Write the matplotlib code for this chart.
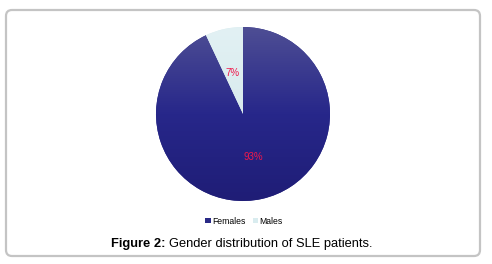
import numpy as np
import matplotlib
matplotlib.use('Agg')
import matplotlib.pyplot as plt
from matplotlib.patches import FancyBboxPatch, Patch
from matplotlib.colors import LinearSegmentedColormap

# datos del grafico
etiquetas = ['Females', 'Males']
valores = [93, 7]
textos = ['93%', '7%']
colores = ['#2a2a86', '#d9ecef']

fig = plt.figure(figsize=(4.92, 2.64), dpi=100)

# marco redondeado alrededor de todo
marco = FancyBboxPatch((0.06, 0.08), 4.74, 2.46, boxstyle='round,pad=0,rounding_size=0.06',
                       transform=fig.dpi_scale_trans, facecolor='none',
                       edgecolor='#c4c4c4', linewidth=1.6, zorder=5)
fig.patches.append(marco)

# ejes de la tarta: centro (243,114) radio 87 px
cx, cy, r = 243, 114, 87
W, H = 492, 264
ax = fig.add_axes([(cx - r) / W, 1 - (cy + r) / H, 2 * r / W, 2 * r / H])
cunyas, _ = ax.pie(valores, colors=colores, startangle=90, counterclock=False,
                   radius=1, wedgeprops=dict(linewidth=0))
ax.set_aspect('equal')
ax.axis('off')

# degradado en las cuñas
cmap = LinearSegmentedColormap.from_list('g', ['#1f1d76', '#27278a', '#4e4e94'])
grad = np.linspace(0, 1, 256).reshape(-1, 1)
im = ax.imshow(grad, extent=[-1, 1, -1, 1], origin='lower', cmap=cmap, aspect='auto', zorder=2)
im.set_clip_path(cunyas[0])
cmap2 = LinearSegmentedColormap.from_list('g2', ['#cfe3e6', '#e2f1f4'])
im2 = ax.imshow(grad, extent=[-1, 1, -1, 1], origin='lower', cmap=cmap2, aspect='auto', zorder=2)
im2.set_clip_path(cunyas[1])
ax.set_xlim(-1, 1)
ax.set_ylim(-1, 1)

# etiquetas de porcentaje
pos = [(253, 157), (233, 73)]
for t, (px, py) in zip(textos, pos):
    fig.text(px / W, 1 - py / H, t, color='#f0184a', fontsize=7,
             ha='center', va='center', family='Liberation Sans', zorder=6)

# leyenda
manijas = [Patch(facecolor=colores[0]), Patch(facecolor=colores[1])]
fig.legend(manijas, etiquetas, loc='center', bbox_to_anchor=(244 / W, 1 - 221 / H),
           ncol=2, frameon=False, handlelength=0.6, handleheight=0.6,
           handletextpad=0.2, columnspacing=0.8, prop={'family': 'Liberation Sans', 'size': 6.2})

# pie de figura
yc = 1 - 244 / H
t1 = fig.text(111 / W, yc, 'Figure 2:', fontsize=9.3, fontweight='bold',
              family='Liberation Sans', va='center', ha='left')
fig.canvas.draw()
bb = t1.get_window_extent()
fig.text((bb.x1 + 3.5) / W, yc, 'Gender distribution of SLE patients.', fontsize=9.3,
         family='Liberation Sans', va='center', ha='left')

fig.savefig('out.png', dpi=100)
